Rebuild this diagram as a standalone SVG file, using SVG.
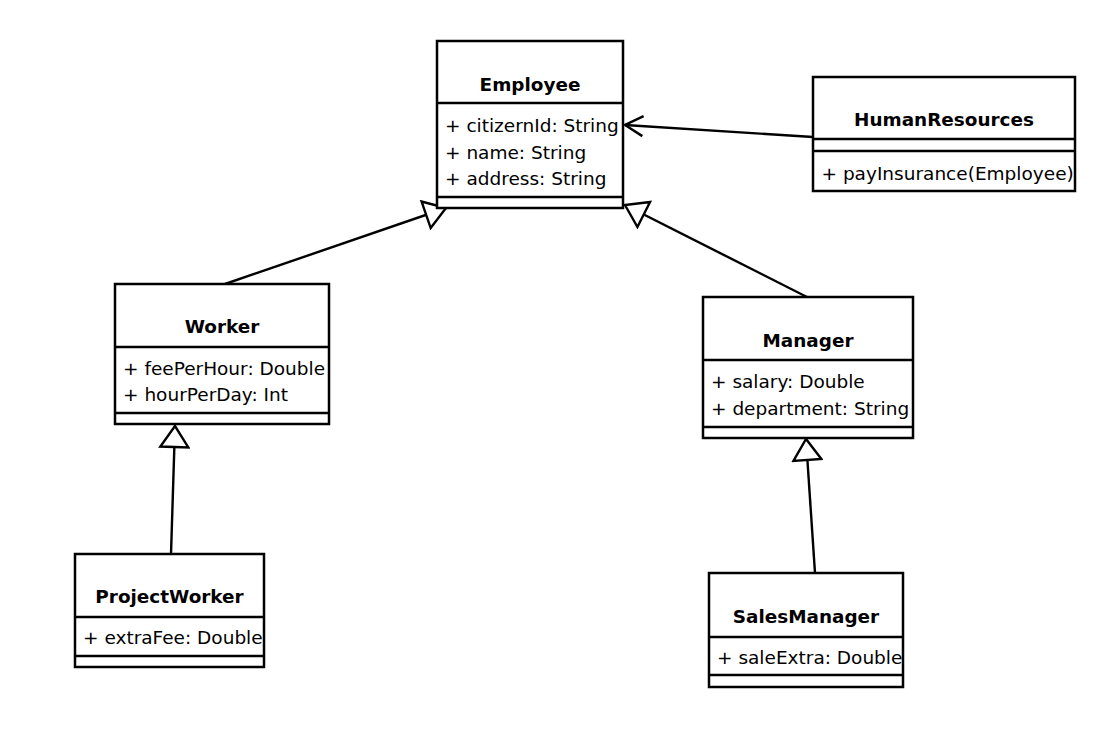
<svg xmlns="http://www.w3.org/2000/svg" width="1113" height="751" viewBox="0 0 1113 751">
<style>
.box{fill:#fff;stroke:#000;stroke-width:2.5}
.div{stroke:#000;stroke-width:2.5}
.title{font-family:"DejaVu Sans",Verdana,sans-serif;font-weight:bold;font-size:18.4px;text-anchor:middle;fill:#000}
.attr{font-family:"DejaVu Sans",Verdana,sans-serif;font-size:18.5px;fill:#000}
.edge{fill:none;stroke:#000;stroke-width:2.4}
</style>
<defs>
<marker id="gen" markerUnits="userSpaceOnUse" viewBox="-24 -16 26 32" refX="0" refY="0" markerWidth="26" markerHeight="32" orient="auto">
<path d="M0,0 L-21,-14 L-21,14 Z" fill="#fff" stroke="#000" stroke-width="2.4" stroke-linejoin="miter"/>
</marker>
<marker id="open" markerUnits="userSpaceOnUse" viewBox="-22 -13 24 26" refX="0" refY="0" markerWidth="24" markerHeight="26" orient="auto">
<path d="M-18,-10 L0,0 L-18,10" fill="none" stroke="#000" stroke-width="2.4"/>
</marker>
</defs>
<rect width="1113" height="751" fill="#fff"/>
<g id="connectors">
<line class="edge" x1="225" y1="284" x2="446" y2="208" marker-end="url(#gen)"/>
<line class="edge" x1="807" y1="297" x2="625" y2="205" marker-end="url(#gen)"/>
<line class="edge" x1="171" y1="554" x2="175" y2="426" marker-end="url(#gen)"/>
<line class="edge" x1="815" y1="573" x2="806" y2="439" marker-end="url(#gen)"/>
<line class="edge" x1="813" y1="137" x2="625" y2="125" marker-end="url(#open)"/>
</g>
<g id="Employee">
<rect class="box" x="437" y="41" width="186" height="167"/>
<line class="div" x1="437" y1="103" x2="623" y2="103"/>
<line class="div" x1="437" y1="197" x2="623" y2="197"/>
<text class="title" x="530" y="91">Employee</text>
<text class="attr" x="445" y="132">+ citizernId: String</text>
<text class="attr" x="445" y="158.5">+ name: String</text>
<text class="attr" x="445" y="185">+ address: String</text>
</g>
<g id="HumanResources">
<rect class="box" x="813" y="77" width="262" height="114"/>
<line class="div" x1="813" y1="139" x2="1075" y2="139"/>
<line class="div" x1="813" y1="151" x2="1075" y2="151"/>
<text class="title" x="944" y="125.5">HumanResources</text>
<text class="attr" x="821.5" y="180">+ payInsurance(Employee)</text>
</g>
<g id="Worker">
<rect class="box" x="115" y="284" width="214" height="140"/>
<line class="div" x1="115" y1="347" x2="329" y2="347"/>
<line class="div" x1="115" y1="413" x2="329" y2="413"/>
<text class="title" x="222" y="333">Worker</text>
<text class="attr" x="123" y="374.5">+ feePerHour: Double</text>
<text class="attr" x="123" y="401">+ hourPerDay: Int</text>
</g>
<g id="Manager">
<rect class="box" x="703" y="297" width="210" height="141"/>
<line class="div" x1="703" y1="360" x2="913" y2="360"/>
<line class="div" x1="703" y1="427" x2="913" y2="427"/>
<text class="title" x="808" y="346.5">Manager</text>
<text class="attr" x="711" y="388">+ salary: Double</text>
<text class="attr" x="711" y="414.5">+ department: String</text>
</g>
<g id="ProjectWorker">
<rect class="box" x="75" y="554" width="189" height="113"/>
<line class="div" x1="75" y1="617" x2="264" y2="617"/>
<line class="div" x1="75" y1="656" x2="264" y2="656"/>
<text class="title" x="169.5" y="603">ProjectWorker</text>
<text class="attr" x="83" y="644">+ extraFee: Double</text>
</g>
<g id="SalesManager">
<rect class="box" x="709" y="573" width="194" height="114"/>
<line class="div" x1="709" y1="637" x2="903" y2="637"/>
<line class="div" x1="709" y1="675" x2="903" y2="675"/>
<text class="title" x="806" y="623">SalesManager</text>
<text class="attr" x="717" y="664">+ saleExtra: Double</text>
</g>
</svg>
